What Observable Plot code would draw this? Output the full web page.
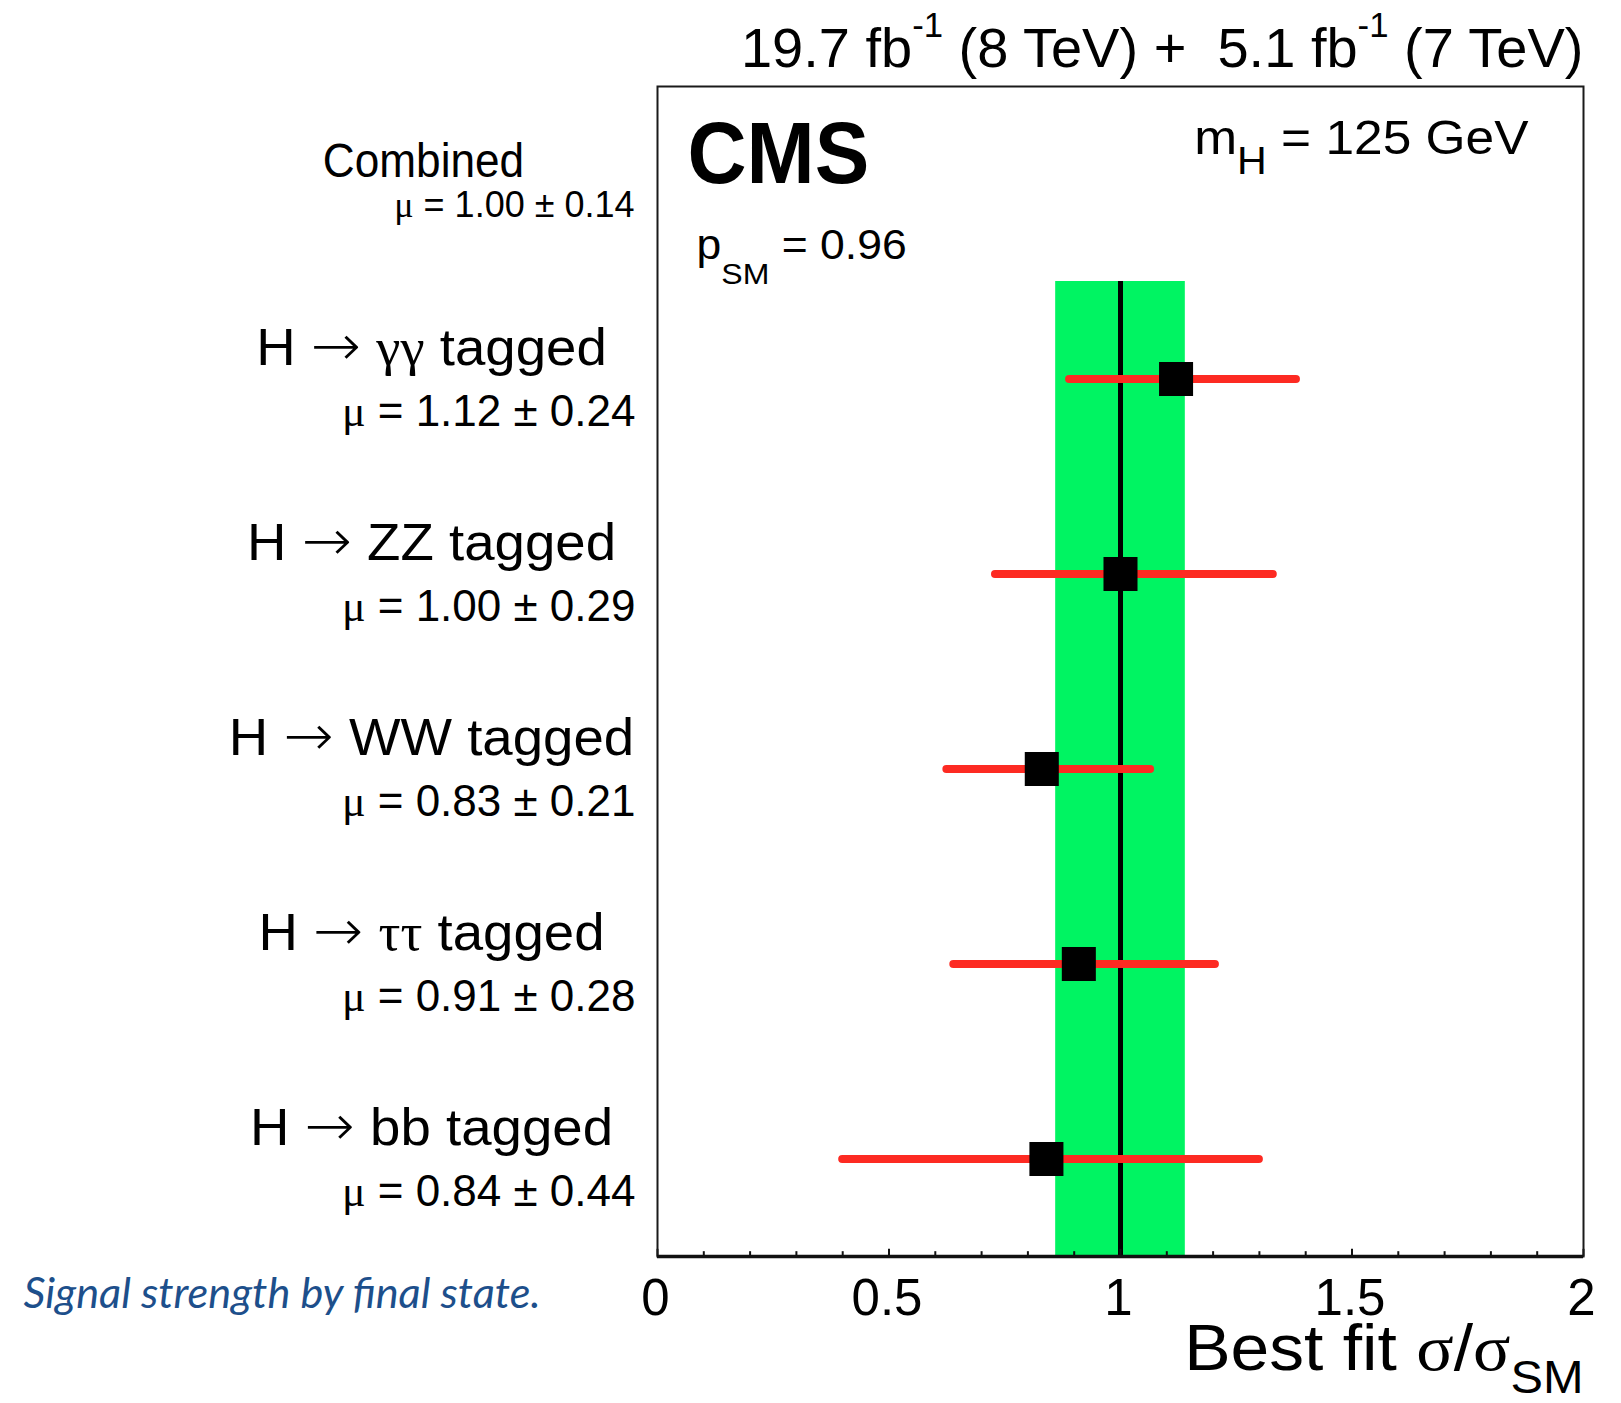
<!DOCTYPE html>
<html><head><meta charset="utf-8">
<script src="https://cdn.jsdelivr.net/npm/d3@7"></script>
<script src="https://cdn.jsdelivr.net/npm/@observablehq/plot@0.6"></script>
<style>body{margin:0;background:#fff} #chart svg{display:block}</style>
</head><body><div id="chart"></div>
<script>
// ---- data ----
const categories = ["Combined", "H → γγ tagged", "H → ZZ tagged", "H → WW tagged", "H → ττ tagged", "H → bb tagged"];
const muValues = [1.00, 1.12, 1.00, 0.83, 0.91, 0.84];
const muErrors = [0.14, 0.24, 0.29, 0.21, 0.28, 0.44];
const errLow  = [0.86, 0.89, 0.73, 0.625, 0.64, 0.40];
const errHigh = [1.14, 1.38, 1.33, 1.065, 1.205, 1.30];
const majorTicks = [0, 0.5, 1, 1.5, 2];
const tickLabels = ["0", "0.5", "1", "1.5", "2"];
const minorTicks = [0.1, 0.2, 0.3, 0.4, 0.6, 0.7, 0.8, 0.9, 1.1, 1.2, 1.3, 1.4, 1.6, 1.7, 1.8, 1.9];
const titleText = "19.7 fb^{-1} (8 TeV) +  5.1 fb^{-1} (7 TeV)";
const massText = "m_{H} = 125 GeV";
const pText = "p_{SM} = 0.96";
const expText = "CMS";
const xLabel = "Best fit σ/σ_{SM}";
const caption = "Signal strength by final state.";

const n = categories.length;
const rows = categories.map((c, i) => ({
  i, label: c, mu: muValues[i], err: muErrors[i], lo: errLow[i], hi: errHigh[i],
  muText: `μ = ${muValues[i].toFixed(2)} ± ${muErrors[i].toFixed(2)}`
}));
const combined = rows.slice(0, 1);
const channels = rows.slice(1);
const ticks = [...minorTicks.map(v => ({v, major: false})), ...majorTicks.map(v => ({v, major: true}))];
const labels = majorTicks.map((v, k) => ({v, t: tickLabels[k]}));

const tickSymbol = {draw(ctx, size) { const l = Math.sqrt(size); ctx.moveTo(0, 0); ctx.lineTo(0, -l); }};

const GREEN = "#00f462", RED = "#fd2a22";
const FONT = "'Liberation Sans', Arial, Helvetica, sans-serif";

const chart = Plot.plot({
  width: 1621, height: 1403,
  marginLeft: 657, marginRight: 38, marginTop: 86, marginBottom: 147,
  style: {fontFamily: FONT, background: "#fff", color: "#000"},
  x: {domain: [0, 2], axis: null},
  y: {domain: [-0.5, n - 0.5], reverse: true, axis: null},
  marks: [
    Plot.rect(combined, {x1: d => d.mu - d.err, x2: d => d.mu + d.err, y1: () => 0.5, y2: () => n - 0.5, fill: GREEN}),
    Plot.ruleX(combined, {x: "mu", y1: () => 0.5, y2: () => n - 0.5, stroke: "#000", strokeWidth: 5}),
    Plot.ruleY(channels, {y: "i", x1: "lo", x2: "hi", stroke: RED, strokeWidth: 8, strokeLinecap: "round"}),
    Plot.dot(channels, {x: "mu", y: "i", symbol: "square", r: 19.2, fill: "#000"}),
    Plot.dot(ticks, {x: "v", y: () => n - 0.5, symbol: tickSymbol, r: d => d.major ? 15.8 : 7.6, stroke: "#111", strokeWidth: 2, fill: "none"}),
    Plot.frame({stroke: "#1a1a1a", strokeWidth: 2}),
    Plot.ruleY([n - 0.5], {stroke: "#111", strokeWidth: 3.5}),
    // tick labels
    Plot.text(labels, {x: "v", y: () => n - 0.5, text: "t", dx: -2, dy: 58.5, lineAnchor: "bottom", fontSize: 51, textAnchor: "middle"}),
    // row labels
    Plot.text(channels, {x: () => 0, y: "i", text: "label", dx: -226, dy: -14, lineAnchor: "bottom", textAnchor: "middle", fontSize: 52}),
    Plot.text(channels, {x: () => 0, y: "i", text: "muText", dx: -22, dy: 47, lineAnchor: "bottom", textAnchor: "end", fontSize: 44}),
    Plot.text(combined, {x: () => 0, y: "i", text: "label", dx: -234, dy: -7, lineAnchor: "bottom", textAnchor: "middle", fontSize: 48}),
    Plot.text(combined, {x: () => 0, y: "i", text: "muText", dx: -23, dy: 33, lineAnchor: "bottom", textAnchor: "end", fontSize: 36}),
    // annotations
    Plot.text([titleText], {frameAnchor: "top-right", text: d => d, dx: 0, dy: -19.5, lineAnchor: "bottom", textAnchor: "end", fontSize: 56}),
    Plot.text([expText], {frameAnchor: "top-left", text: d => d, dx: 30, dy: 96, lineAnchor: "bottom", textAnchor: "start", fontSize: 88, fontWeight: "bold"}),
    Plot.text([massText], {frameAnchor: "top-right", text: d => d, dx: -55, dy: 67, lineAnchor: "bottom", textAnchor: "end", fontSize: 49}),
    Plot.text([pText], {frameAnchor: "top-left", text: d => d, dx: 39, dy: 172, lineAnchor: "bottom", textAnchor: "start", fontSize: 42}),
    Plot.text([xLabel], {frameAnchor: "bottom-right", text: d => d, dx: 0, dy: 113, lineAnchor: "bottom", textAnchor: "end", fontSize: 65}),
    Plot.text([caption], {frameAnchor: "bottom-left", text: d => d, dx: -634, dy: 51.5, lineAnchor: "bottom", textAnchor: "start", fontSize: 43, fontStyle: "italic", fontFamily: "Lato, 'Open Sans', sans-serif", fill: "#1d4f8b"})
  ]
});
document.getElementById("chart").append(chart);

// ---- rich text: sub/superscripts, Symbol-like Greek, long arrow ----
const SVGNS = "http://www.w3.org/2000/svg";
// per-text typographic tweaks (style only): horizontal scale, sub size/shift
const textStyle = new Map([
  [expText, {stretch: 0.93}],
  ["Combined", {stretch: 0.92}],
  [massText, {stretch: 1.05, subScale: 0.8, subShift: 0.41}],
  [pText, {stretch: 1.06, subScale: 0.72, subShift: 0.6}],
  [xLabel, {stretch: 1.07, subScale: 0.7, subShift: 0.36}],
  [titleText, {stretch: 1.0, supScale: 0.62, supShift: 0.53}],
  ...categories.slice(1).map(c => [c, {stretch: 1.05}])
]);
function enrich(el, st) {
  const s = el.textContent;
  if (!/[_^]\{|[\u03B1-\u03C9→]/.test(s)) return;
  const fs = parseFloat(getComputedStyle(el).fontSize);
  const toks = [];
  const re = /([_^])\{([^}]*)\}/g;
  let last = 0, m;
  while ((m = re.exec(s))) {
    if (m.index > last) toks.push({t: s.slice(last, m.index), mode: "n"});
    toks.push({t: m[2], mode: m[1] === "_" ? "sub" : "sup"});
    last = re.lastIndex;
  }
  if (last < s.length) toks.push({t: s.slice(last), mode: "n"});
  const pieces = [];
  for (const tk of toks) {
    tk.t.split(/([\u03B1-\u03C9]+|→)/).forEach(p => {
      if (p) pieces.push({t: p, mode: tk.mode, serif: /[\u03B1-\u03C9]/.test(p), arrow: p === "→"});
    });
  }
  el.textContent = "";
  let cur = 0;
  const subShift = st.subShift ?? 0.42, supShift = st.supShift ?? 0.52;
  for (const p of pieces) {
    const ts = document.createElementNS(SVGNS, "tspan");
    const target = p.mode === "sub" ? fs * subShift : p.mode === "sup" ? -fs * supShift : 0;
    if (target !== cur) ts.setAttribute("dy", target - cur);
    cur = target;
    if (p.mode === "sub") ts.setAttribute("font-size", fs * (st.subScale ?? 0.72));
    if (p.mode === "sup") ts.setAttribute("font-size", fs * (st.supScale ?? 0.62));
    if (p.serif) ts.setAttribute("font-family", "'Liberation Serif', 'DejaVu Serif', serif");
    if (p.arrow) { ts.setAttribute("font-family", "'DejaVu Sans', sans-serif"); ts.setAttribute("font-size", fs * 1.1); ts.setAttribute("font-weight", "200"); }
    ts.textContent = p.t;
    el.appendChild(ts);
  }
}
d3.select(chart).selectAll("text").each(function () {
  const orig = this.textContent;
  const st = textStyle.get(orig) || {};
  enrich(this, st);
  if (orig === caption) {
    this.setAttribute("lengthAdjust", "spacingAndGlyphs");
    this.setAttribute("textLength", 517);
  } else if (st.stretch && st.stretch !== 1) {
    const w = this.getComputedTextLength();
    this.setAttribute("lengthAdjust", "spacingAndGlyphs");
    this.setAttribute("textLength", w * st.stretch);
  }
});
</script>
</body></html>
